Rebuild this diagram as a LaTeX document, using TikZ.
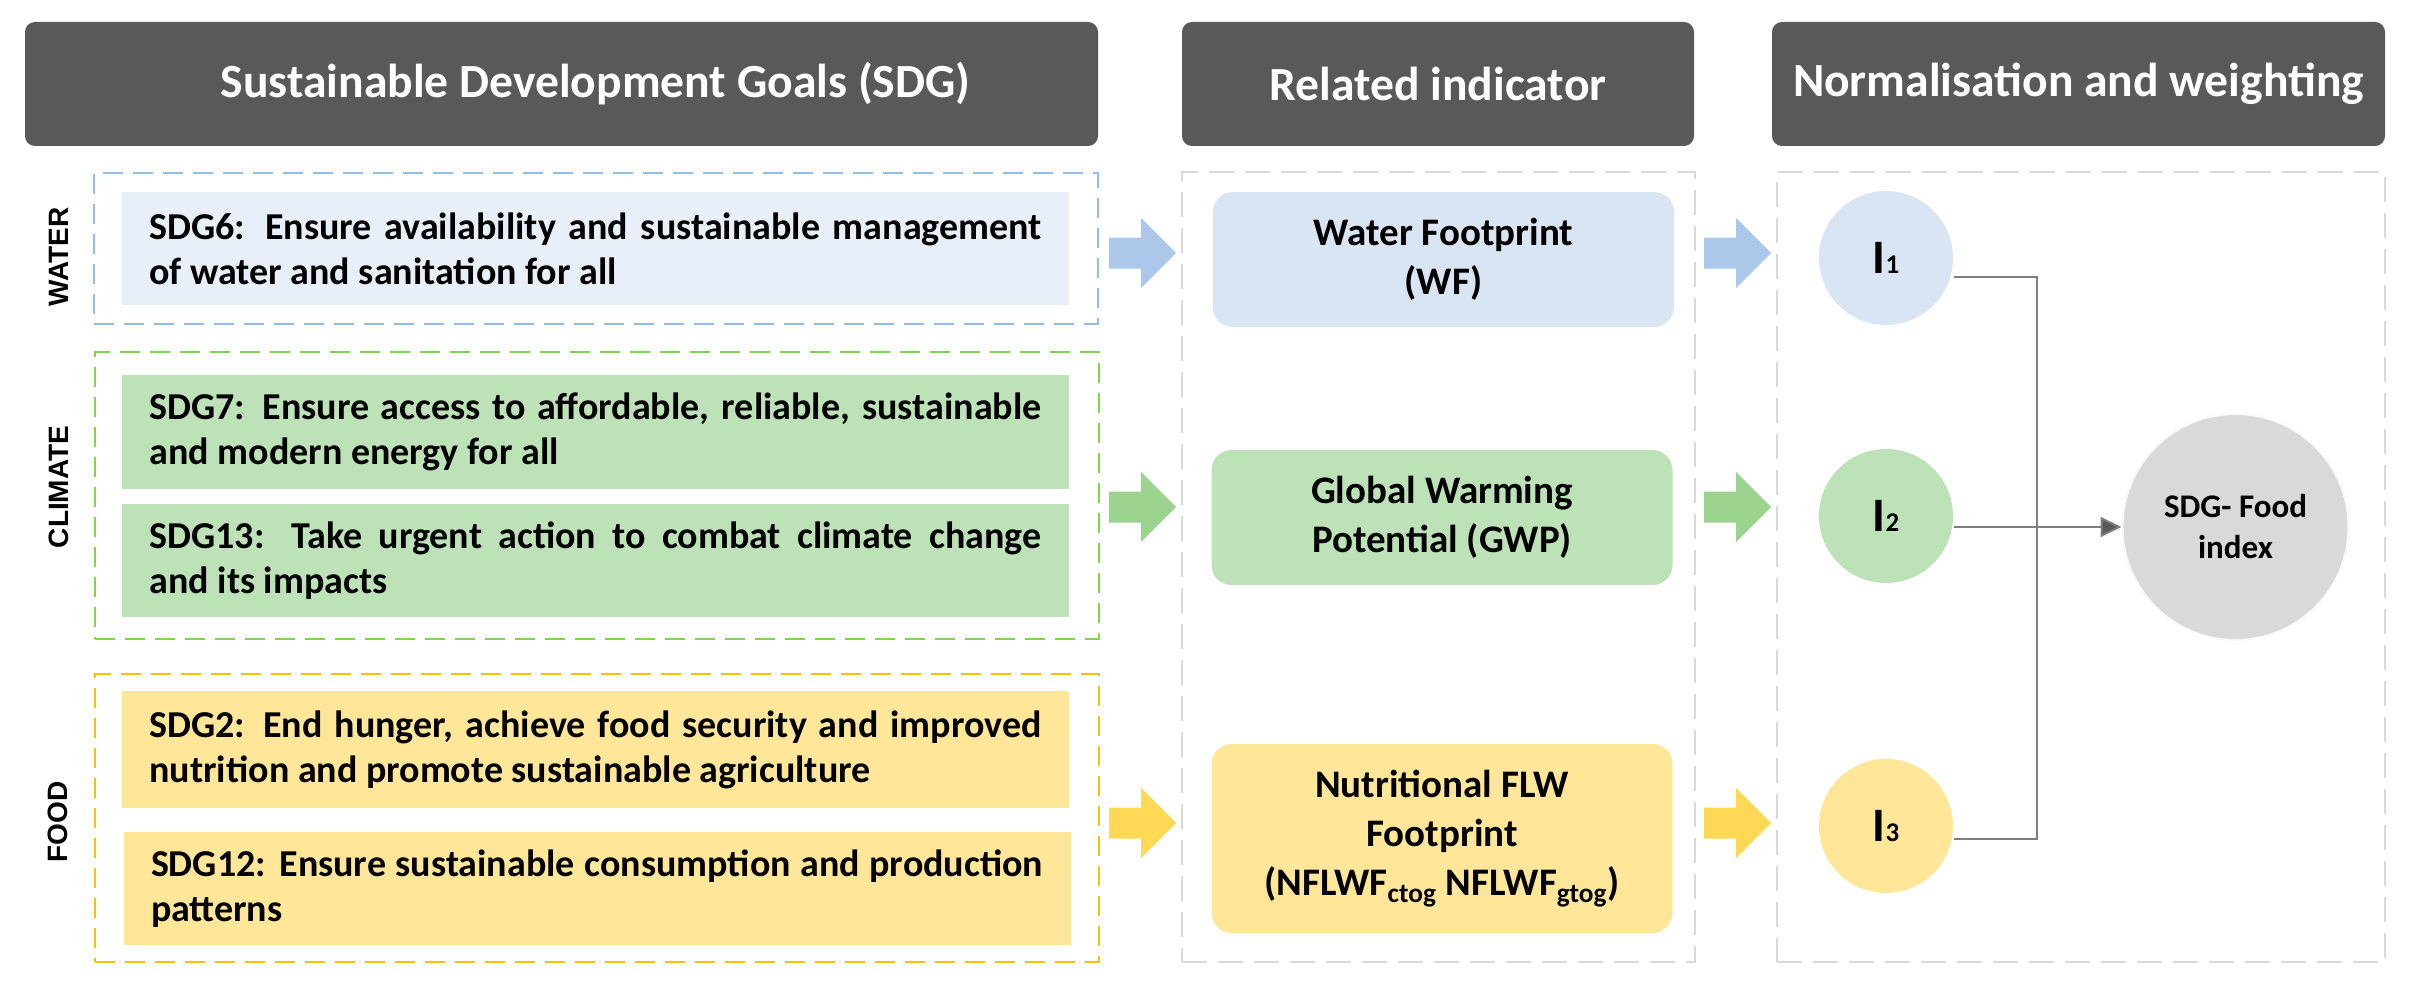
\documentclass[tikz,border=0pt]{standalone}
\usepackage{fontspec}
\setmainfont{Carlito}
\newfontfamily\arialfont{Liberation Sans}
\usetikzlibrary{arrows.meta,calc}
\definecolor{hdrgray}{HTML}{595959}
\definecolor{wlight}{HTML}{E9EFF9}
\definecolor{wfill}{HTML}{DAE5F3}
\definecolor{warrow}{HTML}{ACC7E9}
\definecolor{wdash}{HTML}{94BCE8}
\definecolor{gfill}{HTML}{BDE2B7}
\definecolor{garrow}{HTML}{9AD28E}
\definecolor{gdash}{HTML}{7DD84C}
\definecolor{yfill}{HTML}{FFE699}
\definecolor{yarrow}{HTML}{FFD856}
\definecolor{ydash}{HTML}{FFC000}
\definecolor{greydash}{HTML}{D9D9D9}
\definecolor{idxfill}{HTML}{D9D9D9}
\definecolor{connline}{HTML}{7F7F7F}
\begin{document}
\begin{tikzpicture}[x=0.5pt,y=-0.5pt,
  hdrbox/.style={fill=hdrgray, rounded corners=5pt, minimum height=62pt, inner sep=0pt,
    text=white, font=\bfseries\fontsize{23.8}{28}\selectfont},
  groupbox/.style={line width=1.4pt, dash pattern=on 10pt off 5pt, minimum width=502pt, inner sep=0pt},
  colbox/.style={draw=greydash, line width=1pt, dash pattern=on 12.5pt off 5.5pt, minimum height=395pt, inner sep=0pt},
  sdgbox/.style={minimum width=473.5pt, text width=446pt, align=justify, inner xsep=13.75pt, inner ysep=0pt,
    font=\bfseries\fontsize{19}{22.5}\selectfont},
  indbox/.style={rounded corners=10pt, minimum width=230.5pt, align=center, inner sep=0pt,
    font=\bfseries\fontsize{19.5}{24.5}\selectfont},
  barrow/.pic={\path[pic actions] (-67,-15.5) -- (-35,-15.5) -- (-35,-35) -- (0,0)
     -- (-35,35) -- (-35,15.5) -- (-67,15.5) -- cycle;},
  icirc/.style={circle, minimum size=67pt, inner sep=0pt, font=\bfseries\fontsize{24}{24}\selectfont},
  grouplabel/.style={rotate=90, font=\arialfont\bfseries\fontsize{14}{14}\selectfont},
  conn/.style={draw=connline, line width=1pt},
]
\useasboundingbox (0,0) rectangle (2421,995);

% headers
\node[hdrbox, minimum width=536.5pt] (h1) at (561.5,84) {\hspace*{34pt}Sustainable Development Goals (SDG)};
\node[hdrbox, minimum width=256pt] (h2) at (1438,84) {Related indicator};
\node[hdrbox, minimum width=306.5pt] (h3) at (2078.5,84) {Normalisation and weighting};

% group containers
\node[groupbox, draw=wdash, minimum height=75.5pt] (wgroup) at (596,248.5) {};
\node[groupbox, draw=gdash, minimum height=143.5pt] (cgroup) at (597,495.5) {};
\node[groupbox, draw=ydash, minimum height=144pt] (fgroup) at (597,818) {};

\node[colbox, minimum width=256.5pt] (midcol) at (1438.5,567) {};
\node[colbox, minimum width=304pt] (rightcol) at (2081,567) {};

% group labels
\node[grouplabel] (wlab) at (59,257) {WATER};
\node[grouplabel] (clab) at (59,487) {CLIMATE};
\node[grouplabel] (flab) at (58,822) {FOOD};

% SDG boxes
\node[sdgbox, fill=wlight, minimum height=56.5pt] (sdg6) at (595.5,248.5)
  {SDG6: Ensure availability and sustainable management\linebreak of water and sanitation for all};
\node[sdgbox, fill=gfill, minimum height=57pt] (sdg7) at (595.5,432)
  {SDG7: Ensure access to affordable, reliable, sustainable\linebreak and modern energy for all};
\node[sdgbox, fill=gfill, minimum height=56.5pt] (sdg13) at (595.5,560.5)
  {SDG13: Take urgent action to combat climate change\linebreak and its impacts};
\node[sdgbox, fill=yfill, minimum height=58.5pt] (sdg2) at (595.5,749.5)
  {SDG2: End hunger, achieve food security and improved\linebreak nutrition and promote sustainable agriculture};
\node[sdgbox, fill=yfill, minimum height=56.5pt] (sdg12) at (597,888.5)
  {SDG12: Ensure sustainable consumption and production\linebreak patterns};

% indicator boxes
\node[indbox, fill=wfill, minimum height=67.5pt] (wf) at (1443.5,259.5) {Water Footprint\\(WF)};
\node[indbox, fill=gfill, minimum height=67.5pt] (gwp) at (1442,517.5) {Global Warming\\Potential (GWP)};
\node[indbox, fill=yfill, minimum height=94.5pt] (nflw) at (1442,838.5)
  {Nutritional FLW\\Footprint\\(NFLWF\textsubscript{ctog} NFLWF\textsubscript{gtog})};

% block arrows
\pic[fill=warrow] (a1) at (1176,253) {barrow};
\pic[fill=garrow] (a2) at (1176,507) {barrow};
\pic[fill=yarrow] (a3) at (1176,823) {barrow};
\pic[fill=warrow] (b1) at (1771,253) {barrow};
\pic[fill=garrow] (b2) at (1771,507) {barrow};
\pic[fill=yarrow] (b3) at (1771,823) {barrow};

% indicator circles
\node[icirc, fill=wfill] (i1) at (1886,258) {I{\fontsize{13.5}{13.5}\selectfont 1}};
\node[icirc, fill=gfill] (i2) at (1886,516) {I{\fontsize{13.5}{13.5}\selectfont 2}};
\node[icirc, fill=yfill] (i3) at (1886,826) {I{\fontsize{13.5}{13.5}\selectfont 3}};

\node[circle, fill=idxfill, draw=white!85!idxfill, line width=1pt, minimum size=113pt, inner sep=0pt,
  align=center, font=\bfseries\fontsize{16.5}{20.5}\selectfont] (food) at (2235.5,527) {SDG- Food\\index};

% connectors
\coordinate (join) at (2037,527);
\draw[conn] ($(i1.east)+(1,19)$) -| (join);
\draw[conn] ($(i3.east)+(1,13)$) -| (join);
\draw[conn, -{Triangle[length=10.5pt,width=10pt,fill=hdrgray]}] ($(i2.east)+(1,11)$) -- (food.west);
\end{tikzpicture}
\end{document}
